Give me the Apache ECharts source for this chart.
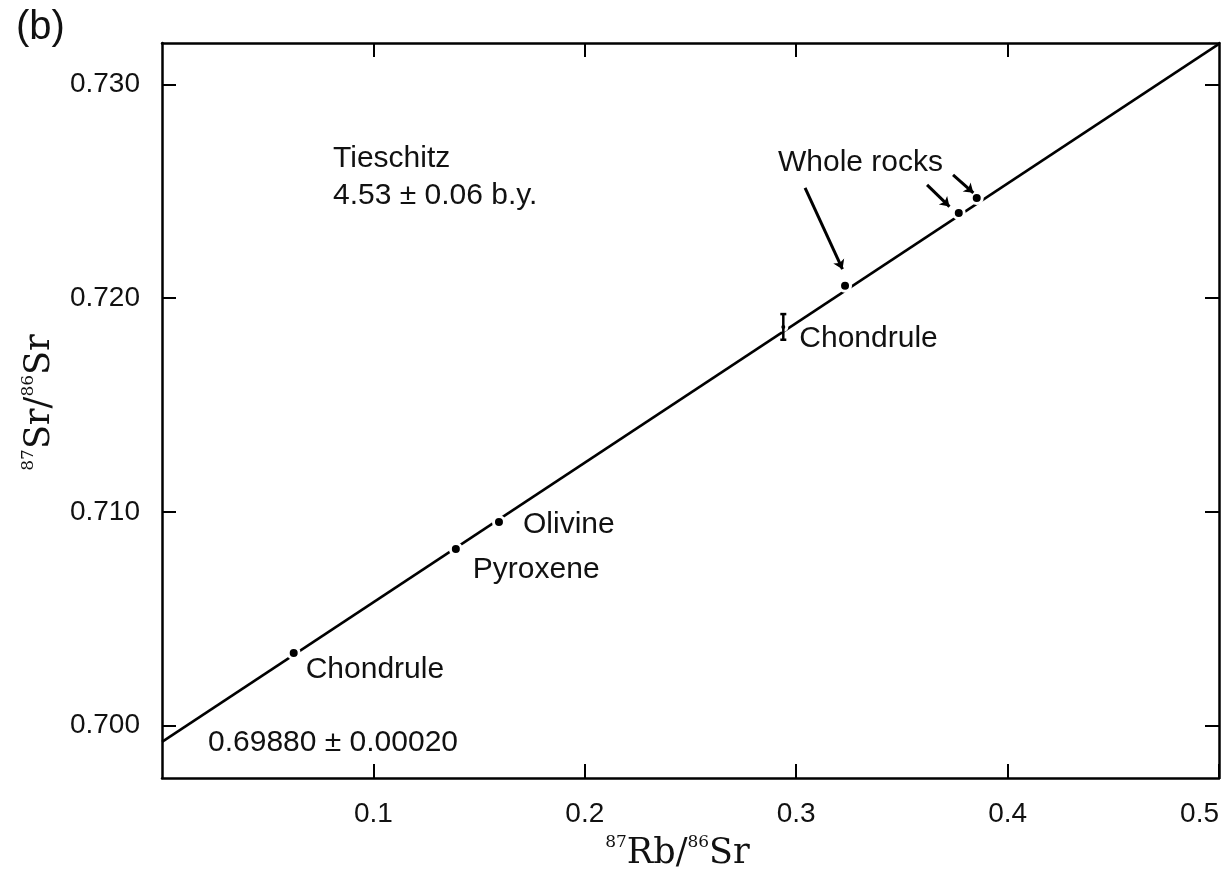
<!DOCTYPE html>
<html><head><meta charset="utf-8">
<script src="https://cdn.jsdelivr.net/npm/echarts@6/dist/echarts.min.js"></script>
<style>html,body{margin:0;padding:0;background:#fff}#c{width:1228px;height:880px}</style>
</head><body><div id="c"></div>
<script>
// ---- data ----
const xTicks = [0.1, 0.2, 0.3, 0.4, 0.5];
const yTicks = [0.700, 0.710, 0.720, 0.730];
const sampleNames = ['Chondrule', 'Pyroxene', 'Olivine', 'Chondrule', '', '', ''];
const rbSr = [0.0623, 0.1390, 0.1594, 0.2939, 0.3231, 0.3769, 0.3854];
const srSr = [0.70340, 0.70826, 0.70953, 0.71865, 0.72057, 0.72398, 0.72468];
const srErr = [0, 0, 0, 0.0006, 0, 0, 0];
const isochronX = [0, 0.5];
const isochronY = [0.69924, 0.73189];
const arrowFrom = [[0.3042, 0.72515], [0.3619, 0.72529], [0.3742, 0.72576]];
const arrowTo = [[0.3219, 0.72135], [0.3725, 0.72428], [0.3838, 0.72492]];
const ageText = ['Tieschitz', '4.53 \u00b1 0.06 b.y.'];
const interceptText = '0.69880 \u00b1 0.00020';
const wholeRockText = 'Whole rocks';
const panelText = '(b)';

// ---- style (label offsets per point) ----
const labelOffsets = [[0, 17], [5, 21], [12, 3], [6, 12], [0, 0], [0, 0], [0, 0]];

const SANS = '"Liberation Sans", Arial, sans-serif';
const SERIF = '"DejaVu Serif", "Liberation Serif", serif';
const FS = 28;   // tick labels
const AS = 30;   // annotations

const pts = rbSr.map((x, i) => ({
  value: [x, srSr[i]],
  symbolSize: srErr[i] > 0 ? 7 : 11,
  label: {
    show: sampleNames[i] !== '',
    formatter: sampleNames[i],
    position: 'right',
    distance: 5,
    offset: labelOffsets[i],
    fontFamily: SANS, fontSize: AS, color: '#111'
  }
}));
const errData = rbSr.map((x, i) => [x, srSr[i], srErr[i]]).filter(d => d[2] > 0);

const axisLineStyle = { color: '#000', width: 2.5 };
const tickStyle = { show: true, inside: true, length: 14, lineStyle: { color: '#000', width: 2 } };
const nameRich = {
  sup: { fontSize: 17, fontFamily: SERIF, color: '#111', verticalAlign: 'top', lineHeight: 17 },
  main: { fontSize: 35, fontFamily: SERIF, color: '#111', lineHeight: 40 }
};

const chart = echarts.init(document.getElementById('c'));
chart.setOption({
  animation: false,
  backgroundColor: '#fff',
  grid: { left: 162, right: 9, top: 43, bottom: 102 },
  xAxis: [{
    type: 'value', min: 0, max: 0.5, position: 'bottom',
    axisLine: { show: true, onZero: false, lineStyle: axisLineStyle },
    axisTick: Object.assign({ customValues: xTicks }, tickStyle),
    axisLabel: { customValues: xTicks, formatter: v => String(+(+v).toFixed(1)), fontFamily: SANS, fontSize: FS, color: '#111', margin: 22, alignMaxLabel: 'right' },
    splitLine: { show: false },
    name: '{sup|87}{main|Rb/}{sup|86}{main|Sr}', nameLocation: 'middle', nameGap: 56,
    nameTextStyle: { rich: nameRich, padding: [0, 26, 0, 0] }
  }, {
    type: 'value', min: 0, max: 0.5, position: 'top',
    axisLine: { show: true, onZero: false, lineStyle: axisLineStyle },
    axisTick: Object.assign({ customValues: xTicks.slice(0, 4) }, tickStyle),
    axisLabel: { show: false }, splitLine: { show: false }
  }],
  yAxis: [{
    type: 'value', min: 0.69755, max: 0.73193, position: 'left',
    axisLine: { show: true, onZero: false, lineStyle: axisLineStyle },
    axisTick: Object.assign({ customValues: yTicks }, tickStyle),
    axisLabel: { customValues: yTicks, formatter: v => (+v).toFixed(3), fontFamily: SANS, fontSize: FS, color: '#111', margin: 22 },
    splitLine: { show: false },
    name: '{sup|87}{main|Sr/}{sup|86}{main|Sr}', nameLocation: 'middle', nameRotate: 90, nameGap: 102,
    nameTextStyle: { rich: nameRich, padding: [0, 0, 0, 16] }
  }, {
    type: 'value', min: 0.69755, max: 0.73193, position: 'right',
    axisLine: { show: true, onZero: false, lineStyle: axisLineStyle },
    axisTick: Object.assign({ customValues: yTicks }, tickStyle),
    axisLabel: { show: false }, splitLine: { show: false }
  }],
  series: [{
    type: 'line', xAxisIndex: 0, yAxisIndex: 0,
    data: isochronX.map((x, i) => [x, isochronY[i]]),
    symbol: 'none', lineStyle: { color: '#000', width: 2.5 }, z: 2
  }, {
    type: 'scatter', xAxisIndex: 0, yAxisIndex: 0, data: pts, z: 3,
    itemStyle: { color: '#000', borderColor: '#fff', borderWidth: 3, opacity: 1 }
  }, {
    type: 'custom', xAxisIndex: 0, yAxisIndex: 0, data: errData, z: 4,
    renderItem: function (params, api) {
      const x = api.value(0), y = api.value(1), e = api.value(2);
      const t = api.coord([x, y + e]), b = api.coord([x, y - e]);
      const st = { stroke: '#000', lineWidth: 2.5 };
      return { type: 'group', children: [
        { type: 'line', shape: { x1: t[0], y1: t[1], x2: b[0], y2: b[1] }, style: st },
        { type: 'line', shape: { x1: t[0] - 3, y1: t[1], x2: t[0] + 3, y2: t[1] }, style: st },
        { type: 'line', shape: { x1: b[0] - 3, y1: b[1], x2: b[0] + 3, y2: b[1] }, style: st }
      ] };
    }
  }, {
    type: 'lines', coordinateSystem: 'cartesian2d', xAxisIndex: 0, yAxisIndex: 0, z: 5,
    data: arrowFrom.map((f, i) => ({ coords: [f, arrowTo[i]] })),
    symbol: ['none', 'arrow'], symbolSize: 9,
    lineStyle: { color: '#000', width: 3, opacity: 1 }
  }],
  graphic: [
    { type: 'text', left: 16, top: 8, style: { text: panelText, font: '40px ' + SANS, fill: '#111' } },
    { type: 'text', left: 333, top: 140, style: { text: ageText.join('\n'), font: AS + 'px ' + SANS, lineHeight: 37, fill: '#111' } },
    { type: 'text', left: 208, top: 728, style: { text: interceptText, font: AS + 'px ' + SANS, fill: '#111' } },
    { type: 'text', left: 778, top: 148, style: { text: wholeRockText, font: AS + 'px ' + SANS, fill: '#111' } }
  ]
});
</script></body></html>
